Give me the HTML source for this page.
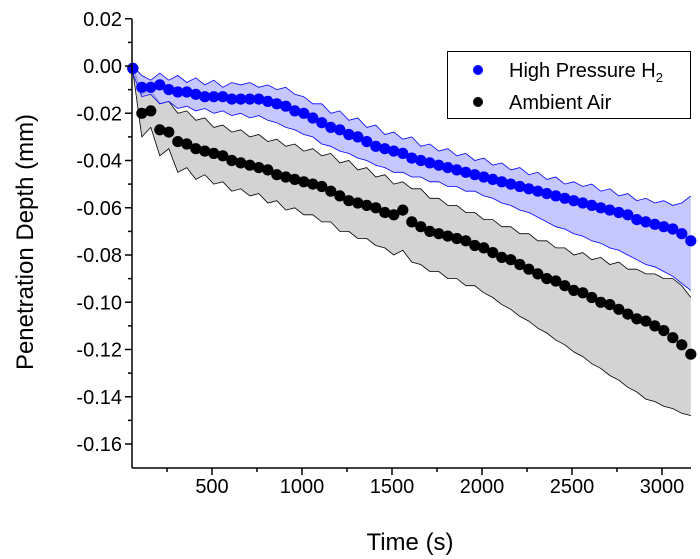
<!DOCTYPE html>
<html><head><meta charset="utf-8"><style>
html,body{margin:0;padding:0;background:#fff;}
svg{display:block;font-family:"Liberation Sans",Arial,sans-serif;}
</style></head><body>
<svg id="chart" width="700" height="559" viewBox="0 0 700 559"></svg>
<script>
const times=[60,110,160,210,260,310,360,410,460,510,
560,610,660,710,760,810,860,910,960,1010,
1060,1110,1160,1210,1260,1310,1360,1410,1460,1510,
1560,1610,1660,1710,1760,1810,1860,1910,1960,2010,
2060,2110,2160,2210,2260,2310,2360,2410,2460,2510,
2560,2610,2660,2710,2760,2810,2860,2910,2960,3010,
3060,3110,3160];
const h2Mean=[-0.001,-0.009,-0.009,-0.008,-0.010,-0.011,-0.011,-0.012,-0.013,-0.013,
-0.013,-0.014,-0.014,-0.014,-0.014,-0.015,-0.016,-0.017,-0.019,-0.020,
-0.022,-0.024,-0.026,-0.027,-0.029,-0.030,-0.032,-0.034,-0.035,-0.036,
-0.037,-0.039,-0.040,-0.041,-0.042,-0.043,-0.044,-0.045,-0.046,-0.047,
-0.048,-0.049,-0.050,-0.051,-0.052,-0.053,-0.054,-0.055,-0.056,-0.057,
-0.058,-0.059,-0.060,-0.061,-0.062,-0.063,-0.065,-0.066,-0.067,-0.068,
-0.069,-0.071,-0.074];
const h2Upper=[0.000,-0.004,-0.006,-0.003,-0.006,-0.004,-0.007,-0.005,-0.008,-0.006,
-0.009,-0.007,-0.008,-0.007,-0.009,-0.008,-0.010,-0.009,-0.012,-0.013,
-0.016,-0.016,-0.020,-0.019,-0.023,-0.022,-0.026,-0.025,-0.029,-0.028,
-0.031,-0.030,-0.034,-0.033,-0.036,-0.035,-0.038,-0.037,-0.040,-0.039,
-0.042,-0.041,-0.044,-0.043,-0.046,-0.045,-0.048,-0.047,-0.050,-0.049,
-0.051,-0.050,-0.053,-0.052,-0.055,-0.054,-0.057,-0.056,-0.058,-0.057,
-0.059,-0.058,-0.055];
const h2Lower=[-0.003,-0.013,-0.012,-0.016,-0.015,-0.018,-0.017,-0.019,-0.018,-0.020,
-0.019,-0.021,-0.020,-0.022,-0.021,-0.023,-0.024,-0.026,-0.027,-0.029,
-0.030,-0.033,-0.034,-0.036,-0.037,-0.039,-0.040,-0.042,-0.043,-0.045,
-0.045,-0.047,-0.047,-0.049,-0.049,-0.051,-0.051,-0.053,-0.053,-0.055,
-0.056,-0.058,-0.059,-0.061,-0.062,-0.064,-0.066,-0.068,-0.069,-0.071,
-0.072,-0.074,-0.075,-0.077,-0.078,-0.080,-0.082,-0.084,-0.085,-0.087,
-0.089,-0.092,-0.095];
const airMean=[-0.001,-0.020,-0.019,-0.027,-0.028,-0.032,-0.033,-0.035,-0.036,-0.037,
-0.038,-0.040,-0.041,-0.042,-0.043,-0.044,-0.046,-0.047,-0.048,-0.049,
-0.050,-0.051,-0.053,-0.055,-0.057,-0.058,-0.059,-0.060,-0.062,-0.063,
-0.061,-0.066,-0.068,-0.070,-0.071,-0.072,-0.073,-0.074,-0.076,-0.077,
-0.079,-0.081,-0.082,-0.084,-0.086,-0.088,-0.090,-0.091,-0.093,-0.095,
-0.096,-0.098,-0.100,-0.101,-0.103,-0.105,-0.107,-0.108,-0.110,-0.112,
-0.115,-0.118,-0.122];
const airUpper=[0.000,-0.012,-0.010,-0.016,-0.015,-0.020,-0.019,-0.023,-0.022,-0.026,
-0.025,-0.028,-0.027,-0.030,-0.029,-0.032,-0.031,-0.034,-0.033,-0.036,
-0.035,-0.038,-0.037,-0.041,-0.040,-0.044,-0.043,-0.047,-0.046,-0.050,
-0.049,-0.052,-0.052,-0.056,-0.056,-0.059,-0.059,-0.062,-0.062,-0.065,
-0.065,-0.068,-0.068,-0.071,-0.071,-0.074,-0.074,-0.077,-0.077,-0.080,
-0.079,-0.082,-0.081,-0.084,-0.083,-0.086,-0.086,-0.088,-0.088,-0.090,
-0.090,-0.093,-0.098];
const airLower=[-0.002,-0.030,-0.026,-0.038,-0.035,-0.045,-0.043,-0.048,-0.046,-0.050,
-0.049,-0.053,-0.052,-0.055,-0.054,-0.058,-0.057,-0.061,-0.060,-0.063,
-0.063,-0.066,-0.066,-0.070,-0.070,-0.073,-0.073,-0.076,-0.077,-0.080,
-0.078,-0.083,-0.084,-0.087,-0.087,-0.090,-0.090,-0.093,-0.093,-0.096,
-0.098,-0.101,-0.103,-0.106,-0.108,-0.111,-0.113,-0.116,-0.118,-0.121,
-0.123,-0.126,-0.128,-0.131,-0.133,-0.136,-0.138,-0.141,-0.142,-0.144,
-0.145,-0.147,-0.148];
const xTicks=[500,1000,1500,2000,2500,3000];
const xMinor=[250,750,1250,1750,2250,2750];
const yTicks=[0.02,0,-0.02,-0.04,-0.06,-0.08,-0.10,-0.12,-0.14,-0.16];
const yTickLabels=["0.02","0.00","-0.02","-0.04","-0.06","-0.08","-0.10","-0.12","-0.14","-0.16"];
const yMinor=[0.01,-0.01,-0.03,-0.05,-0.07,-0.09,-0.11,-0.13,-0.15];

const L=132,R=691,T=19,B=468;
function xs(t){return 212+(t-500)*0.18;}
function ys(v){return 66-v/0.02*47.25;}
const NS="http://www.w3.org/2000/svg";
const svg=document.getElementById('chart');
function mk(tag,attrs,parent){const e=document.createElementNS(NS,tag);for(const k in attrs)e.setAttribute(k,attrs[k]);(parent||svg).appendChild(e);return e;}

function band(up,lo,fill,stroke,name){
  const g=mk('g',{});
  
  
  let d='M'+times.map((t,i)=>xs(t).toFixed(1)+','+ys(up[i]).toFixed(1)).join('L');
  d+='L'+times.slice().reverse().map((t,j)=>{const i=times.length-1-j;return xs(t).toFixed(1)+','+ys(lo[i]).toFixed(1);}).join('L')+'Z';
  mk('path',{d:d,fill:fill,stroke:'none'},g);
  mk('polyline',{points:times.map((t,i)=>xs(t).toFixed(1)+','+ys(up[i]).toFixed(1)).join(' '),fill:'none',stroke:stroke,'stroke-width':0.8},g);
  mk('polyline',{points:times.map((t,i)=>xs(t).toFixed(1)+','+ys(lo[i]).toFixed(1)).join(' '),fill:'none',stroke:stroke,'stroke-width':0.8},g);
}
band(airUpper,airLower,'#d3d3d3','#000','ambient-air-band');
band(h2Upper,h2Lower,'rgba(180,180,255,0.75)','#0000ff','h2-band');

function dots(vals,color,name){
  const g=mk('g',{});
  
  
  vals.forEach((v,i)=>{
    const c=mk('circle',{cx:xs(times[i]).toFixed(1),cy:ys(v).toFixed(1),r:5.6,fill:color},g);
    
    
  });
}
dots(airMean,'#000','ambient-air-series');
dots(h2Mean,'#0000ff','h2-series');

const ax=mk('g',{stroke:'#000','stroke-width':1.5});


mk('line',{x1:L,y1:T,x2:L,y2:B},ax);
mk('line',{x1:L,y1:B,x2:R,y2:B},ax);
xTicks.forEach(t=>{
  mk('line',{x1:xs(t),y1:B,x2:xs(t),y2:B+7},ax);
  const tx=mk('text',{x:xs(t),y:B+25,'text-anchor':'middle','font-size':20,fill:'#000',stroke:'none'});
  tx.textContent=t;
  
  
});
xMinor.forEach(t=>mk('line',{x1:xs(t),y1:B,x2:xs(t),y2:B+4},ax));
yTicks.forEach((v,i)=>{
  mk('line',{x1:L-7,y1:ys(v),x2:L,y2:ys(v)},ax);
  const tx=mk('text',{x:L-10,y:ys(v)+7,'text-anchor':'end','font-size':20,fill:'#000',stroke:'none'});
  tx.textContent=yTickLabels[i];
  
  
});
yMinor.forEach(v=>mk('line',{x1:L-4,y1:ys(v),x2:L,y2:ys(v)},ax));
</script>
<svg width="700" height="559" style="position:absolute;left:0;top:0">
  <text x="410" y="550" text-anchor="middle" font-size="24" font-family="Liberation Sans, sans-serif">Time (s)</text>
  <text transform="translate(33,242) rotate(-90)" text-anchor="middle" font-size="24" font-family="Liberation Sans, sans-serif">Penetration Depth (mm)</text>
  <g>
    <rect x="447.5" y="51.5" width="243" height="67" fill="#fff" stroke="#000" stroke-width="1"/>
    <g>
      <circle cx="478" cy="70" r="5" fill="#0000ff"/>
      <text x="509" y="77" font-size="20" font-family="Liberation Sans, sans-serif">High Pressure H<tspan font-size="13" dy="5">2</tspan></text>
    </g>
    <g>
      <circle cx="478" cy="102" r="5" fill="#000"/>
      <text x="509" y="109" font-size="20" font-family="Liberation Sans, sans-serif">Ambient Air</text>
    </g>
  </g>
</svg>
</body></html>
